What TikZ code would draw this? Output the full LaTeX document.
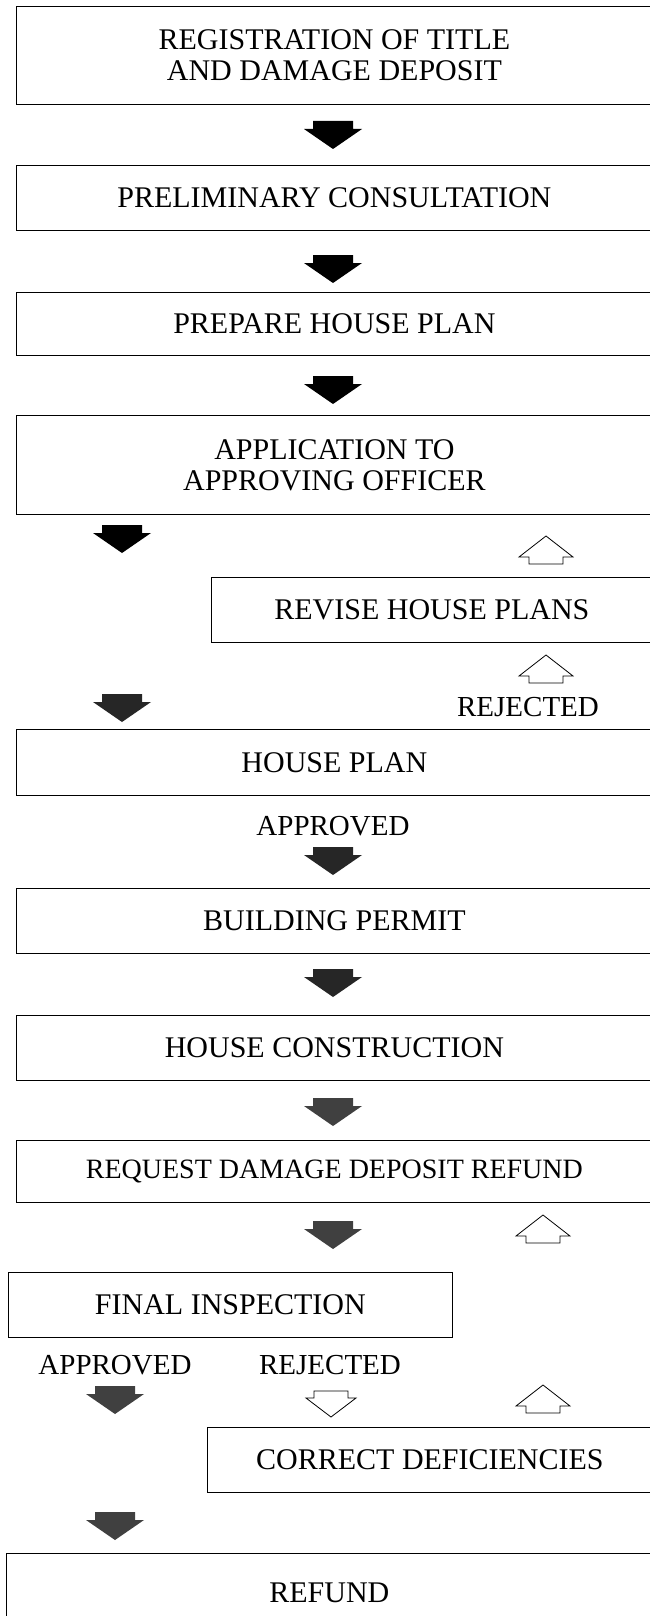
\documentclass[tikz,border=0pt]{standalone}
\usepackage{fontspec}
\setmainfont{Liberation Serif}
\tikzset{
    stage/.style = {draw, line width = 0.8pt, anchor = north west, align = center, inner sep = 0pt, font = \fontsize{30}{31}\selectfont},
    tag/.style = {inner sep = 0pt, font = \fontsize{29}{31}\selectfont}
}
% block arrows: x of the middle, top (or bottom) y
\newcommand{\solidarrow}[3]{\fill[#3, shift = {(#1,#2)}] (-20,0) -- (20,0) -- (20,8) -- (29,8) -- (0,28) -- (-29,8) -- (-20,8) -- cycle;}
\newcommand{\hollowup}[2]{\draw[line width = 0.8pt, fill = white, shift = {(#1,#2)}] (-17,0) -- (17,0) -- (17,-7) -- (27,-7) -- (0,-28) -- (-27,-7) -- (-17,-7) -- cycle;}
\newcommand{\hollowdown}[2]{\draw[line width = 0.8pt, fill = white, shift = {(#1,#2)}] (-17,0) -- (17,0) -- (17,7) -- (25,7) -- (0,26) -- (-25,7) -- (-17,7) -- cycle;}
\begin{document}
\begin{tikzpicture}[x = 1pt, y = -1pt]
            \useasboundingbox (0,0) rectangle (650,1616);
            \fill[white] (0,0) rectangle (650,1616);
            \node[stage, minimum width = 636pt, minimum height = 98pt] (title) at (16,6) {REGISTRATION OF TITLE\\AND DAMAGE DEPOSIT};
            \node[stage, minimum width = 636pt, minimum height = 65pt] (consult) at (16,165) {PRELIMINARY CONSULTATION};
            \node[stage, minimum width = 636pt, minimum height = 63pt] (prepare) at (16,292) {PREPARE HOUSE PLAN};
            \node[stage, minimum width = 636pt, minimum height = 99pt] (apply) at (16,415) {APPLICATION TO\\APPROVING OFFICER};
            \node[stage, minimum width = 441pt, minimum height = 65pt] (revise) at (211,577) {REVISE HOUSE PLANS};
            \node[stage, minimum width = 636pt, minimum height = 66pt] (houseplan) at (16,729) {HOUSE PLAN};
            \node[stage, minimum width = 636pt, minimum height = 65pt] (permit) at (16,888) {BUILDING PERMIT};
            \node[stage, minimum width = 636pt, minimum height = 65pt] (construct) at (16,1015) {HOUSE CONSTRUCTION};
            \node[stage, minimum width = 636pt, minimum height = 62pt, font = \fontsize{28}{31}\selectfont] (request) at (16,1140) {REQUEST DAMAGE DEPOSIT REFUND};
            \node[stage, minimum width = 444pt, minimum height = 65pt] (inspect) at (8,1272) {FINAL INSPECTION};
            \node[stage, minimum width = 445pt, minimum height = 65pt] (correct) at (207,1427) {CORRECT DEFICIENCIES};
            \node[stage, minimum width = 646pt, minimum height = 78pt] (refund) at (6,1553) {REFUND};
            \node[tag] (rejplan) at (528,707) {REJECTED};
            \node[tag] (appplan) at (333,826) {APPROVED};
            \node[tag] (appfinal) at (115,1365) {APPROVED};
            \node[tag] (rejfinal) at (330,1365) {REJECTED};
            \begin{scope}
                \solidarrow{333}{121}{black}
                \solidarrow{333}{255}{black}
                \solidarrow{333}{376}{black}
                \solidarrow{122}{525}{black}
                \solidarrow{122}{694}{black!85}
                \solidarrow{333}{847}{black!85}
                \solidarrow{333}{969}{black!85}
                \solidarrow{333}{1098}{black!75}
                \solidarrow{333}{1221}{black!75}
                \solidarrow{115}{1386}{black!75}
                \solidarrow{115}{1512}{black!75}
            \end{scope}
            \begin{scope}
                \hollowup{546}{564}
                \hollowup{546}{683}
                \hollowup{543}{1243}
                \hollowup{543}{1413}
                \hollowdown{331}{1391}
            \end{scope}
        \end{tikzpicture}
\end{document}
